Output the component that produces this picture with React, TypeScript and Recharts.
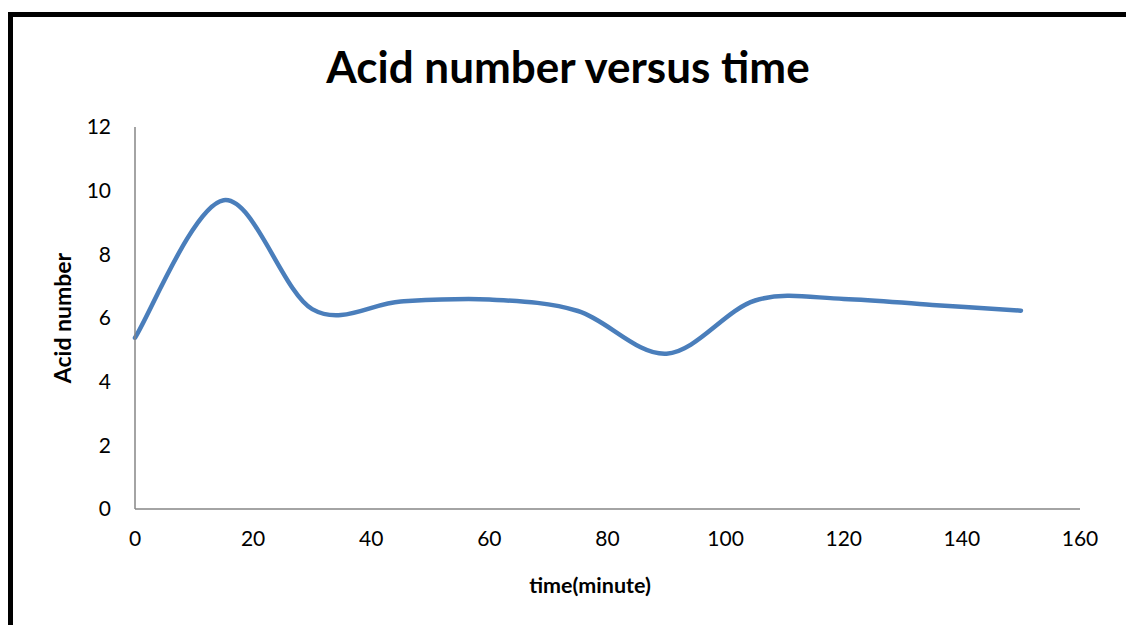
import { LineChart, Line, XAxis, YAxis } from 'recharts';

// time in minutes and measured acid number
const timeMinutes = [0, 15, 30, 45, 60, 75, 90, 105, 120, 135, 150];
const acidNumber = [5.38, 9.7, 6.28, 6.52, 6.58, 6.22, 4.88, 6.55, 6.6, 6.41, 6.23];

const xTicks = [0, 20, 40, 60, 80, 100, 120, 140, 160];
const yTicks = [0, 2, 4, 6, 8, 10, 12];

const data = timeMinutes.map((t, i) => ({ time: t, acid: acidNumber[i] }));

const FONT = 'Lato, "Open Sans", sans-serif';
const AXIS_GRAY = '#868686';

// Excel-style smoothed line (Catmull-Rom through every point)
function excelSmooth(context: any) {
  let pts: [number, number][] = [];
  return {
    areaStart() {},
    areaEnd() {},
    lineStart() {
      pts = [];
    },
    point(x: number, y: number) {
      pts.push([+x, +y]);
    },
    lineEnd() {
      const n = pts.length;
      if (!n) return;
      context.moveTo(pts[0][0], pts[0][1]);
      for (let i = 0; i < n - 1; i++) {
        const p0 = pts[Math.max(i - 1, 0)];
        const p1 = pts[i];
        const p2 = pts[i + 1];
        const p3 = pts[Math.min(i + 2, n - 1)];
        context.bezierCurveTo(
          p1[0] + (p2[0] - p0[0]) / 6,
          p1[1] + (p2[1] - p0[1]) / 6,
          p2[0] - (p3[0] - p1[0]) / 6,
          p2[1] - (p3[1] - p1[1]) / 6,
          p2[0],
          p2[1]
        );
      }
    },
  };
}

export default function App() {
  return (
    <div
      style={{
        position: 'fixed',
        left: 0,
        top: 0,
        width: 1126,
        height: 625,
        overflow: 'hidden',
        background: '#fff',
        fontFamily: FONT,
      }}
    >
      {/* outer chart frame */}
      <div
        style={{
          position: 'absolute',
          left: 8,
          top: 12,
          width: 1200,
          height: 700,
          border: '5px solid #000',
          boxSizing: 'border-box',
        }}
      />
      <div
        style={{
          position: 'absolute',
          left: 568,
          top: 66,
          transform: 'translate(-50%, -50%)',
          fontSize: 44,
          fontWeight: 700,
          whiteSpace: 'nowrap',
          color: '#000',
        }}
      >
        Acid number versus time
      </div>
      <div
        style={{
          position: 'absolute',
          left: 62,
          top: 318,
          transform: 'translate(-50%, -50%) rotate(-90deg)',
          fontSize: 23,
          fontWeight: 700,
          whiteSpace: 'nowrap',
          color: '#000',
        }}
      >
        Acid number
      </div>
      <div
        style={{
          position: 'absolute',
          left: 590,
          top: 585,
          transform: 'translate(-50%, -50%)',
          fontSize: 21.5,
          fontWeight: 700,
          whiteSpace: 'nowrap',
          color: '#000',
        }}
      >
        time(minute)
      </div>
      <div style={{ position: 'absolute', left: 0, top: 0 }}>
        <LineChart
          width={1126}
          height={625}
          data={data}
          margin={{ top: 127, right: 46, bottom: 56, left: 60 }}
        >
          <XAxis
            dataKey="time"
            type="number"
            domain={[0, 160]}
            ticks={xTicks}
            interval={0}
            tickLine={false}
            tickSize={0}
            tickMargin={22}
            height={60}
            axisLine={{ stroke: AXIS_GRAY, strokeWidth: 1.5 }}
            tick={{ fill: '#000', fontSize: 21, fontFamily: FONT }}
          />
          <YAxis
            type="number"
            domain={[0, 12]}
            ticks={yTicks}
            interval={0}
            tickLine={false}
            tickSize={0}
            tickMargin={24}
            width={75}
            axisLine={{ stroke: AXIS_GRAY, strokeWidth: 1.5 }}
            tick={{ fill: '#000', fontSize: 21, fontFamily: FONT }}
          />
          <Line
            dataKey="acid"
            type={excelSmooth as any}
            stroke="#4A7EBB"
            strokeWidth={4.5}
            strokeLinecap="round"
            dot={false}
            activeDot={false}
            isAnimationActive={false}
          />
        </LineChart>
      </div>
    </div>
  );
}
